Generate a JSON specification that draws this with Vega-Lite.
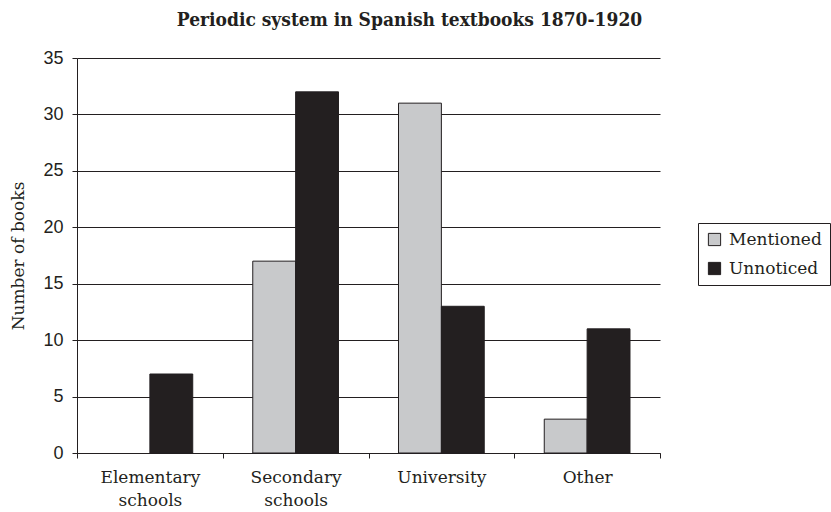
{
  "$schema": "https://vega.github.io/schema/vega-lite/v6.json",
  "autosize": {"type": "none"},
  "width": 583,
  "height": 395,
  "padding": {"left": 77, "top": 58, "right": 171, "bottom": 59},
  "background": "white",
  "title": {
    "text": "Periodic system in  Spanish textbooks 1870-1920",
    "font": "DejaVu Serif Condensed",
    "fontWeight": "bold",
    "fontSize": 19,
    "color": "#231f20",
    "anchor": "middle",
    "dx": 41,
    "baseline": "alphabetic",
    "offset": 4
  },
  "data": {
    "values": [
      {"level": "Elementary schools", "status": "Mentioned", "books": 0},
      {"level": "Elementary schools", "status": "Unnoticed", "books": 7},
      {"level": "Secondary schools", "status": "Mentioned", "books": 17},
      {"level": "Secondary schools", "status": "Unnoticed", "books": 32},
      {"level": "University", "status": "Mentioned", "books": 31},
      {"level": "University", "status": "Unnoticed", "books": 13},
      {"level": "Other", "status": "Mentioned", "books": 3},
      {"level": "Other", "status": "Unnoticed", "books": 11}
    ]
  },
  "mark": {"type": "bar", "strokeWidth": 1},
  "encoding": {
    "x": {
      "field": "level",
      "type": "nominal",
      "sort": null,
      "scale": {"paddingInner": 0, "paddingOuter": 0},
      "axis": {
        "title": null,
        "labelAngle": 0,
        "tickBand": "extent",
        "bandPosition": 0,
        "labelExpr": "split(datum.label, ' ')",
        "labelFont": "DejaVu Serif",
        "labelFontSize": 17,
        "labelColor": "#231f20",
        "labelLineHeight": 23,
        "labelPadding": 11,
        "tickSize": 5,
        "tickColor": "#231f20",
        "domainColor": "#231f20",
        "grid": false
      }
    },
    "xOffset": {
      "field": "status",
      "type": "nominal",
      "scale": {"paddingInner": 0, "paddingOuter": 0.7}
    },
    "y": {
      "field": "books",
      "type": "quantitative",
      "scale": {"domain": [0, 35]},
      "axis": {
        "title": "Number of books",
        "titleFont": "DejaVu Serif",
        "titleFontSize": 17,
        "titleFontWeight": "normal",
        "titleColor": "#231f20",
        "titlePadding": 15,
        "values": [0, 5, 10, 15, 20, 25, 30, 35],
        "labelFont": "Liberation Sans",
        "labelFontSize": 18,
        "labelColor": "#231f20",
        "labelPadding": 9,
        "tickSize": 5,
        "tickColor": "#231f20",
        "domainColor": "#231f20",
        "grid": true,
        "gridColor": "#231f20",
        "gridWidth": 1
      }
    },
    "stroke": {
      "condition": {"test": "datum.books > 0", "value": "#231f20"},
      "value": null
    },
    "color": {
      "field": "status",
      "type": "nominal",
      "scale": {"domain": ["Mentioned", "Unnoticed"], "range": ["#c8c9cb", "#231f20"]},
      "legend": {
        "title": null,
        "orient": "none",
        "legendX": 621,
        "legendY": 165,
        "direction": "vertical",
        "symbolType": "square",
        "symbolSize": 150,
        "symbolStrokeColor": "#231f20",
        "symbolStrokeWidth": 1,
        "symbolOpacity": 1,
        "labelFont": "DejaVu Serif",
        "labelFontSize": 17,
        "labelColor": "#231f20",
        "labelOffset": 6,
        "rowPadding": 11,
        "padding": 8,
        "strokeColor": "#231f20",
        "fillColor": "white"
      }
    }
  },
  "config": {
    "view": {"stroke": null},
    "axis": {"domainWidth": 1, "tickWidth": 1}
  }
}
